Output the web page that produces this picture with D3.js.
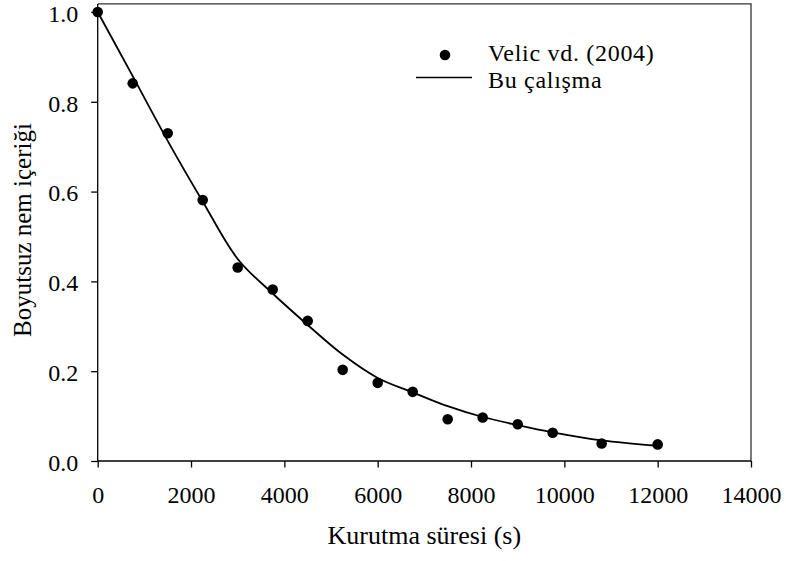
<!DOCTYPE html>
<html>
<head>
<meta charset="utf-8">
<script src="https://cdn.jsdelivr.net/npm/d3@7"></script>
<style>
  body { margin: 0; background: #fff; }
  svg text { font-family: "Liberation Serif", "Times New Roman", serif; fill: #000; }
</style>
</head>
<body>
<svg width="786" height="561"></svg>
<script>
// Data
var obs_time = [0, 750, 1500, 2250, 3000, 3750, 4500, 5250, 6000, 6750, 7500, 8250, 9000, 9750, 10800, 12000];
var obs_mr = [1.0, 0.841, 0.730, 0.581, 0.431, 0.382, 0.312, 0.203, 0.174, 0.154, 0.093, 0.097, 0.082, 0.063, 0.039, 0.037];
var fit_time = [0, 750, 1500, 2250, 3000, 3750, 4500, 5250, 6000, 6750, 7500, 8250, 9000, 9750, 10800, 12000];
var fit_mr = [1.0, 0.857, 0.713, 0.578, 0.450, 0.373, 0.303, 0.237, 0.185, 0.153, 0.122, 0.098, 0.080, 0.064, 0.046, 0.034];
var x_ticks = [0, 2000, 4000, 6000, 8000, 10000, 12000, 14000];
var y_ticks = [0, 0.2, 0.4, 0.6, 0.8, 1.0];
var legend_labels = ["Velic vd. (2004)", "Bu çalışma"];

var p_left = 97.7, p_right = 751, p_top = 3, p_bottom = 461;

var svg = d3.select('svg');

var x = d3.scaleLinear().domain([0, 14000]).range([p_left, p_right]);
var y = d3.scaleLinear().domain([0, 1.02]).range([p_bottom, p_top]);

// frame (top + right)
svg.append('path')
   .attr('d', 'M' + p_left + ',' + y(1.018) + 'H' + p_right + 'V' + p_bottom)
   .attr('fill', 'none')
   .attr('stroke', '#333')
   .attr('stroke-width', 1.3);

// axes
var xAxis = svg.append('g')
   .attr('transform', 'translate(0,' + p_bottom + ')')
   .call(d3.axisBottom(x).tickValues(x_ticks).tickSize(6.5).tickPadding(18).tickFormat(d3.format('d')));
var yAxis = svg.append('g')
   .attr('transform', 'translate(' + p_left + ',0)')
   .call(d3.axisLeft(y).tickValues(y_ticks).tickSize(6.5).tickPadding(13).tickFormat(d3.format('.1f')));

[xAxis, yAxis].forEach(function(g) {
  g.select('.domain').remove();
  g.selectAll('line').attr('stroke', '#000').attr('stroke-width', 1.3);
  g.selectAll('text').attr('font-size', '24px')
   .attr('font-family', '"Liberation Serif", "Times New Roman", serif');
});
yAxis.selectAll('text').attr('dy', '0.39em');

svg.append('line')
   .attr('x1', p_left).attr('x2', p_left)
   .attr('y1', y(1.018)).attr('y2', p_bottom)
   .attr('stroke', '#000').attr('stroke-width', 1.3);
svg.append('line')
   .attr('x1', p_left).attr('x2', p_right)
   .attr('y1', p_bottom).attr('y2', p_bottom)
   .attr('stroke', '#000').attr('stroke-width', 1.3);

// fitted line
var fit = fit_time.map(function(t, i) { return {t: t, v: fit_mr[i]}; });
svg.append('path')
   .datum(fit)
   .attr('d', d3.line().x(d => x(d.t)).y(d => y(d.v)).curve(d3.curveCatmullRom.alpha(0.5)))
   .attr('fill', 'none')
   .attr('stroke', '#000')
   .attr('stroke-width', 1.8);

// observed points
var obs = obs_time.map(function(t, i) { return {t: t, v: obs_mr[i]}; });
svg.selectAll('circle.dot')
   .data(obs).enter().append('circle')
   .attr('class', 'dot')
   .attr('cx', d => x(d.t))
   .attr('cy', d => y(d.v))
   .attr('r', 5.3)
   .attr('fill', '#000');

// legend
svg.append('circle').attr('cx', 445).attr('cy', 55).attr('r', 5.3).attr('fill', '#000');
svg.append('line')
   .attr('x1', 416).attr('x2', 472).attr('y1', 77.5).attr('y2', 77.5)
   .attr('stroke', '#000').attr('stroke-width', 1.3);
svg.selectAll('text.leg')
   .data(legend_labels).enter().append('text')
   .attr('class', 'leg')
   .attr('x', 488)
   .attr('y', (d, i) => 61 + i * 27)
   .attr('font-size', '24px')
   .attr('letter-spacing', '0.7px')
   .text(d => d);

// axis titles
svg.append('text')
   .attr('x', (p_left + p_right) / 2)
   .attr('y', 544)
   .attr('text-anchor', 'middle')
   .attr('font-size', '26px')
   .text('Kurutma süresi (s)');
svg.append('text')
   .attr('transform', 'translate(31,230) rotate(-90)')
   .attr('text-anchor', 'middle')
   .attr('font-size', '25px')
   .text('Boyutsuz nem içeriği');
</script>
</body>
</html>
